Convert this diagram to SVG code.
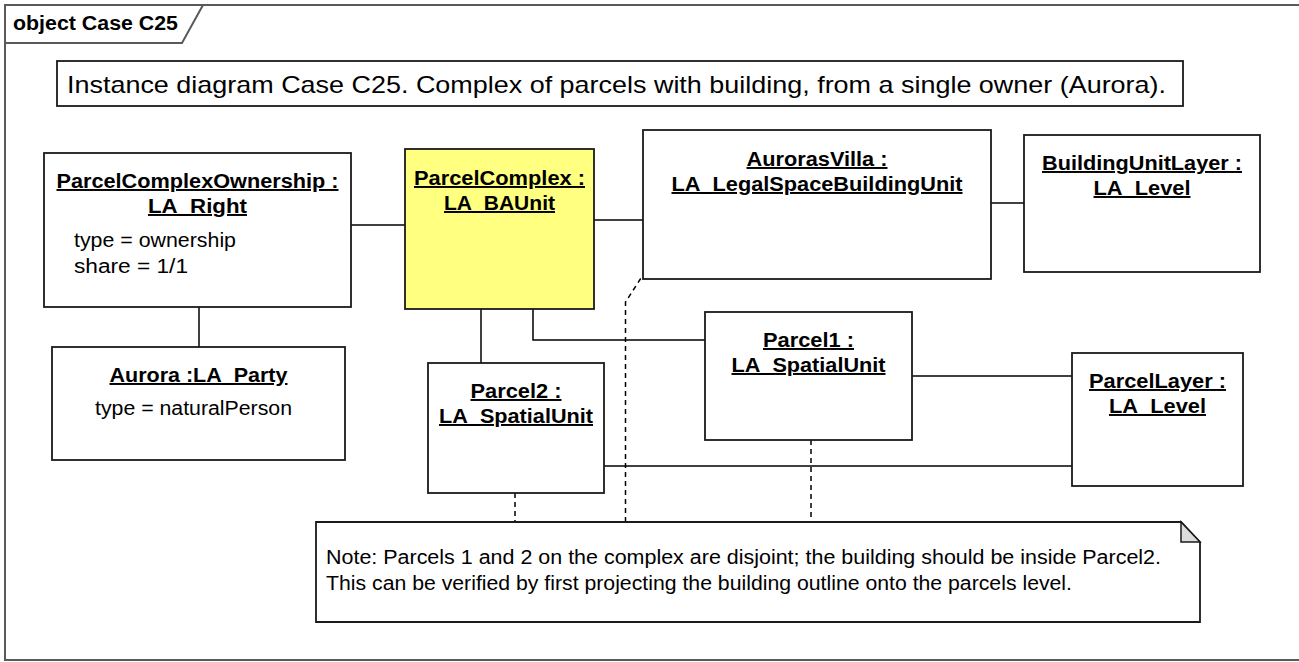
<svg xmlns="http://www.w3.org/2000/svg" width="1299" height="662" viewBox="0 0 1299 662">
<style>
.frame{fill:none;stroke:#5a5a5a;stroke-width:2}
.node{fill:#fff;stroke:#1a1a1a;stroke-width:1.8}
.hl{fill:#ffff80}
.name{font-family:"Liberation Sans",Arial,sans-serif;font-size:19.5px;font-weight:bold;text-anchor:middle;text-decoration:underline;fill:#000}
.attr{font-family:"Liberation Sans",Arial,sans-serif;font-size:19.5px;fill:#000}
.title{font-family:"Liberation Sans",Arial,sans-serif;font-size:24px;fill:#000}
.flabel{font-family:"Liberation Sans",Arial,sans-serif;font-size:19.5px;font-weight:bold;fill:#000}
.conn{fill:none;stroke:#000;stroke-width:1.5}
.dash{fill:none;stroke:#000;stroke-width:1.5;stroke-dasharray:5 4}
.fold{fill:#dcdcdc;stroke:#1a1a1a;stroke-width:1.5}
</style>
<rect x="0" y="0" width="1299" height="662" fill="#fff"/>
<g id="frame">
  <rect class="frame" x="5" y="5" width="1296" height="655"/>
  <path class="frame" d="M5,43 H182 L203,5"/>
  <text class="flabel" x="13" y="30" textLength="165" lengthAdjust="spacingAndGlyphs">object Case C25</text>
</g>
<g id="title">
  <rect class="node" x="57" y="61" width="1126" height="45"/>
  <text class="title" x="67" y="93" textLength="1099" lengthAdjust="spacingAndGlyphs">Instance diagram Case C25. Complex of parcels with building, from a single owner (Aurora).</text>
</g>
<g id="connectors">
  <line class="conn" x1="351" y1="225" x2="405" y2="225"/>
  <line class="conn" x1="594" y1="220" x2="643" y2="220"/>
  <line class="conn" x1="991" y1="203" x2="1024" y2="203"/>
  <line class="conn" x1="199" y1="307" x2="199" y2="347"/>
  <line class="conn" x1="481" y1="309" x2="481" y2="363"/>
  <path class="conn" d="M533,309 V340 H705"/>
  <line class="conn" x1="912" y1="376" x2="1072" y2="376"/>
  <line class="conn" x1="604" y1="466" x2="1072" y2="466"/>
  <line class="dash" x1="515" y1="493" x2="515" y2="522"/>
  <path class="dash" d="M625.5,522 V302 L643,275"/>
  <line class="dash" x1="811" y1="440" x2="811" y2="522"/>
</g>
<g id="ParcelComplexOwnership">
  <rect class="node" x="44" y="153" width="307" height="154"/>
  <text class="name" x="197.5" y="188" textLength="282" lengthAdjust="spacingAndGlyphs">ParcelComplexOwnership :</text>
  <text class="name" x="197.5" y="213" textLength="99" lengthAdjust="spacingAndGlyphs">LA_Right</text>
  <text class="attr" x="74" y="247" textLength="162" lengthAdjust="spacingAndGlyphs">type = ownership</text>
  <text class="attr" x="74" y="273" textLength="114" lengthAdjust="spacingAndGlyphs">share = 1/1</text>
</g>
<g id="ParcelComplex">
  <rect class="node hl" x="405" y="149" width="189" height="160"/>
  <text class="name" x="499.5" y="185" textLength="171" lengthAdjust="spacingAndGlyphs">ParcelComplex :</text>
  <text class="name" x="499.5" y="210" textLength="111" lengthAdjust="spacingAndGlyphs">LA_BAUnit</text>
</g>
<g id="AurorasVilla">
  <rect class="node" x="643" y="130" width="348" height="149"/>
  <text class="name" x="817" y="166" textLength="141" lengthAdjust="spacingAndGlyphs">AurorasVilla :</text>
  <text class="name" x="817" y="191" textLength="291" lengthAdjust="spacingAndGlyphs">LA_LegalSpaceBuildingUnit</text>
</g>
<g id="BuildingUnitLayer">
  <rect class="node" x="1024" y="135" width="236" height="137"/>
  <text class="name" x="1142" y="170" textLength="200" lengthAdjust="spacingAndGlyphs">BuildingUnitLayer :</text>
  <text class="name" x="1142" y="195" textLength="97" lengthAdjust="spacingAndGlyphs">LA_Level</text>
</g>
<g id="Aurora">
  <rect class="node" x="52" y="347" width="293" height="113"/>
  <text class="name" x="198.5" y="382" textLength="178" lengthAdjust="spacingAndGlyphs">Aurora :LA_Party</text>
  <text class="attr" x="95" y="415" textLength="197" lengthAdjust="spacingAndGlyphs">type = naturalPerson</text>
</g>
<g id="Parcel2">
  <rect class="node" x="428" y="363" width="176" height="130"/>
  <text class="name" x="516" y="398" textLength="91" lengthAdjust="spacingAndGlyphs">Parcel2 :</text>
  <text class="name" x="516" y="423" textLength="154" lengthAdjust="spacingAndGlyphs">LA_SpatialUnit</text>
</g>
<g id="Parcel1">
  <rect class="node" x="705" y="312" width="207" height="128"/>
  <text class="name" x="808.5" y="347" textLength="91" lengthAdjust="spacingAndGlyphs">Parcel1 :</text>
  <text class="name" x="808.5" y="372" textLength="154" lengthAdjust="spacingAndGlyphs">LA_SpatialUnit</text>
</g>
<g id="ParcelLayer">
  <rect class="node" x="1072" y="353" width="171" height="133"/>
  <text class="name" x="1157.5" y="388" textLength="137" lengthAdjust="spacingAndGlyphs">ParcelLayer :</text>
  <text class="name" x="1157.5" y="413" textLength="97" lengthAdjust="spacingAndGlyphs">LA_Level</text>
</g>
<g id="Note">
  <path class="node" d="M316,522 H1181 L1200,542 V622 H316 Z"/>
  <path class="fold" d="M1181,522 V542 H1200 Z"/>
  <text class="attr" x="326" y="564" textLength="835" lengthAdjust="spacingAndGlyphs">Note: Parcels 1 and 2 on the complex are disjoint; the building should be inside Parcel2.</text>
  <text class="attr" x="326" y="590" textLength="746" lengthAdjust="spacingAndGlyphs">This can be verified by first projecting the building outline onto the parcels level.</text>
</g>
</svg>
